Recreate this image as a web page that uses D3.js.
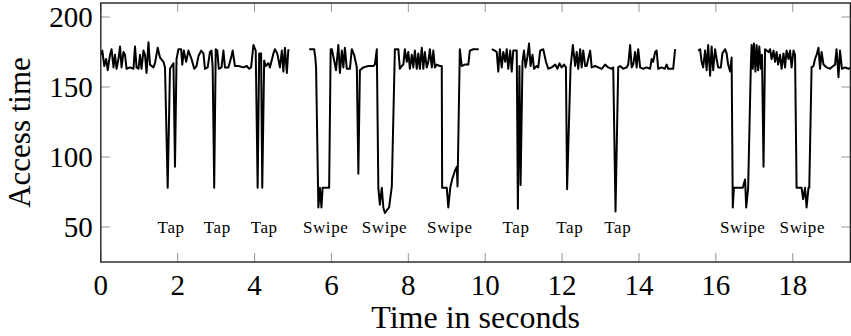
<!DOCTYPE html>
<html><head><meta charset="utf-8">
<script src="https://cdn.jsdelivr.net/npm/d3@7/dist/d3.min.js"></script>
<style>html,body{margin:0;padding:0;background:#fff;}svg{display:block;}</style>
</head><body>
<svg id="chart" width="851" height="336"></svg>
<script>
// ---- data (time in seconds, access time); null marks a gap between recordings ----
const time = [
 0.00,0.04,0.09,0.14,0.18,0.24,0.28,0.33,0.37,0.41,0.46,0.50,0.54,0.59,0.63,0.67,0.76,0.85,0.89,0.93,0.98,1.02,1.06,1.11,1.15,1.19,1.24,1.28,1.37,1.41,1.48,1.54,1.63,1.67,1.74,1.80,1.89,1.93,1.97,2.02,2.09,2.12,2.16,2.22,2.28,2.36,2.43,2.49,2.54,2.61,2.67,2.71,2.78,2.84,2.88,2.91,2.95,2.99,3.03,3.07,3.14,3.19,3.23,3.32,3.39,3.43,3.49,3.58,3.71,3.80,3.86,3.91,3.97,4.03,4.08,4.12,4.17,4.20,4.25,4.29,4.36,4.40,4.49,4.53,4.59,4.66,4.71,4.75,4.79,4.84,4.88,
 4.90,
 5.42,5.55,5.58,5.60,5.66,5.70,5.74,5.77,5.88,5.94,5.98,6.01,6.07,6.12,6.18,6.22,6.27,6.31,6.35,6.40,6.48,6.53,6.59,6.66,6.70,6.74,6.83,6.96,7.09,7.13,7.18,7.22,7.26,7.31,7.35,7.39,7.44,7.50,7.57,7.65,7.74,7.78,7.83,7.87,7.91,7.96,8.00,8.04,8.09,8.13,8.17,8.22,8.26,8.30,8.35,8.39,8.43,8.48,8.52,8.56,8.61,8.65,8.69,8.74,8.82,8.87,8.88,8.96,9.00,9.04,9.09,9.14,9.21,9.26,9.28,9.34,9.39,9.47,9.56,9.60,9.69,9.83,
 9.90,
 10.17,10.25,10.30,10.34,10.38,10.43,10.47,10.52,10.56,10.60,10.65,10.69,10.73,10.82,10.85,10.89,10.92,10.97,11.01,11.05,11.10,11.14,11.18,11.23,11.27,11.34,11.38,11.43,11.51,11.58,11.64,11.73,11.82,11.88,11.93,11.99,12.05,12.10,12.13,12.22,12.28,12.34,12.38,12.42,12.47,12.51,12.55,12.60,12.64,12.68,12.73,12.77,12.86,13.03,13.12,13.20,13.29,13.33,13.39,13.46,13.51,13.59,13.68,13.72,13.77,13.81,13.85,13.90,13.94,13.98,14.03,14.11,14.20,14.29,14.33,14.37,14.42,14.46,14.50,14.59,14.67,14.72,14.76,14.89,14.94,
 15.00,
 15.54,15.59,15.63,15.67,15.72,15.76,15.80,15.85,15.89,15.93,15.98,16.02,16.06,16.13,16.17,16.24,16.28,16.32,16.37,16.41,16.44,16.47,16.63,16.70,16.76,16.79,16.84,16.91,16.93,16.96,16.99,17.03,17.06,17.10,17.13,17.17,17.20,17.24,17.28,17.37,17.41,17.45,17.50,17.54,17.58,17.62,17.67,17.71,17.76,17.80,17.84,17.89,17.93,17.97,18.02,18.06,18.10,18.19,18.23,18.27,18.32,18.36,18.41,18.43,18.49,18.54,18.58,18.62,18.67,18.71,18.75,18.80,18.88,18.97,19.05,19.10,19.14,19.19,19.23,19.28,19.36,19.45,19.52
];
const accessTime = [
 173,176,165,170,162,173,177,164,173,163,170,179,164,175,173,163,164,163,179,164,163,173,163,176,173,160,182,166,164,167,178,171,168,164,78,163,167,93,170,177,177,166,176,168,176,170,163,165,172,176,174,163,164,175,176,164,78,177,176,163,164,176,164,164,171,176,165,165,164,165,163,164,180,176,78,174,174,78,169,165,167,164,174,177,174,164,176,161,178,160,177,
 null,
 177,177,171,164,64,78,64,78,78,78,177,177,169,162,180,160,176,164,178,163,163,177,173,164,88,162,164,165,165,166,177,78,66,78,64,60,62,64,79,177,177,163,165,166,177,168,175,163,173,164,176,163,174,163,178,163,175,164,168,177,164,176,164,166,165,165,78,78,78,64,78,84,90,93,79,177,165,166,166,176,177,177,
 null,
 177,176,175,161,177,164,175,168,177,163,176,161,176,176,63,165,80,168,176,164,172,181,165,173,163,165,164,176,177,168,163,164,166,163,167,164,166,164,77,164,180,165,175,163,177,164,176,165,165,170,176,164,165,163,166,164,163,164,61,164,165,163,164,166,180,164,166,175,164,177,164,163,164,163,170,168,175,176,163,164,163,166,163,163,177,
 null,
 176,177,168,164,176,162,180,158,179,162,177,170,164,164,174,177,174,166,161,171,64,78,78,78,84,64,78,165,180,163,181,161,180,162,179,163,173,93,177,175,177,170,176,168,175,166,173,163,174,164,176,170,176,164,176,173,78,78,78,70,78,64,78,78,164,165,170,173,178,163,175,166,164,163,165,166,177,157,176,163,164,163,164
];
const xTicks = [0, 2, 4, 6, 8, 10, 12, 14, 16, 18];
const yTicks = [50, 100, 150, 200];
const gestureLabels = ["Tap","Tap","Tap","Swipe","Swipe","Swipe","Tap","Tap","Tap","Swipe","Swipe"];
const gestureTimes  = [1.83, 3.03, 4.25, 5.85, 7.38, 9.08, 10.8, 12.2, 13.45, 16.7, 18.25];
const gestureLevel = 50;
const xDomain = [0, 19.5];
const yDomain = [25, 210];

// ---- layout ----
const svg = d3.select("#chart");
const L = 100.8, R = 850.4, T = 3, B = 262;
const x = d3.scaleLinear().domain(xDomain).range([L, R]);
const y = d3.scaleLinear().domain(yDomain).range([B, T]);
const font = "'Liberation Serif', 'Times New Roman', serif";

const pts = time.map((t, i) => ({t, v: accessTime[i]}));

svg.append("defs").append("clipPath").attr("id", "clip")
  .append("rect").attr("x", L).attr("y", T).attr("width", R - L).attr("height", B - T);

// ticks (inward, mirrored)
const tickLen = 9;
const tickG = svg.append("g").attr("stroke", "#8a8a8a").attr("stroke-width", 0.9);
xTicks.forEach(v => {
  tickG.append("line").attr("x1", x(v)).attr("x2", x(v)).attr("y1", B).attr("y2", B - tickLen);
  tickG.append("line").attr("x1", x(v)).attr("x2", x(v)).attr("y1", T).attr("y2", T + tickLen);
});
yTicks.forEach(v => {
  tickG.append("line").attr("x1", L).attr("x2", L + tickLen).attr("y1", y(v)).attr("y2", y(v));
  tickG.append("line").attr("x1", R).attr("x2", R - tickLen).attr("y1", y(v)).attr("y2", y(v));
});

// data line
const line = d3.line().defined(d => d.v !== null).x(d => x(d.t)).y(d => y(d.v));
svg.append("path").datum(pts).attr("clip-path", "url(#clip)")
  .attr("fill", "none").attr("stroke", "#000").attr("stroke-width", 2)
  .attr("stroke-linejoin", "round").attr("d", line);

// frame
svg.append("rect").attr("x", L).attr("y", T).attr("width", R - L).attr("height", B - T)
  .attr("fill", "none").attr("stroke", "#222").attr("stroke-width", 1.4);

// tick labels
svg.append("g").selectAll("text").data(xTicks).join("text")
  .attr("x", d => x(d)).attr("y", B + 33).attr("text-anchor", "middle")
  .attr("font-family", font).attr("font-size", 29).text(d => d);
svg.append("g").selectAll("text").data(yTicks).join("text")
  .attr("x", L - 8).attr("y", d => y(d)).attr("dy", "0.35em").attr("text-anchor", "end")
  .attr("font-family", font).attr("font-size", 29).text(d => d);

// gesture annotations
svg.append("g").selectAll("text").data(gestureTimes).join("text")
  .attr("x", d => x(d)).attr("y", y(gestureLevel)).attr("dy", "0.35em").attr("text-anchor", "middle")
  .attr("font-family", font).attr("font-size", 17).attr("letter-spacing", 0.6)
  .text((d, i) => gestureLabels[i]);

// axis titles
svg.append("text").attr("x", (L + R) / 2).attr("y", 328).attr("text-anchor", "middle")
  .attr("font-family", font).attr("font-size", 32).text("Time in seconds");
svg.append("text").attr("transform", `translate(30,${(T + B) / 2}) rotate(-90)`)
  .attr("text-anchor", "middle").attr("font-family", font).attr("font-size", 31).text("Access time");
</script>
</body></html>
